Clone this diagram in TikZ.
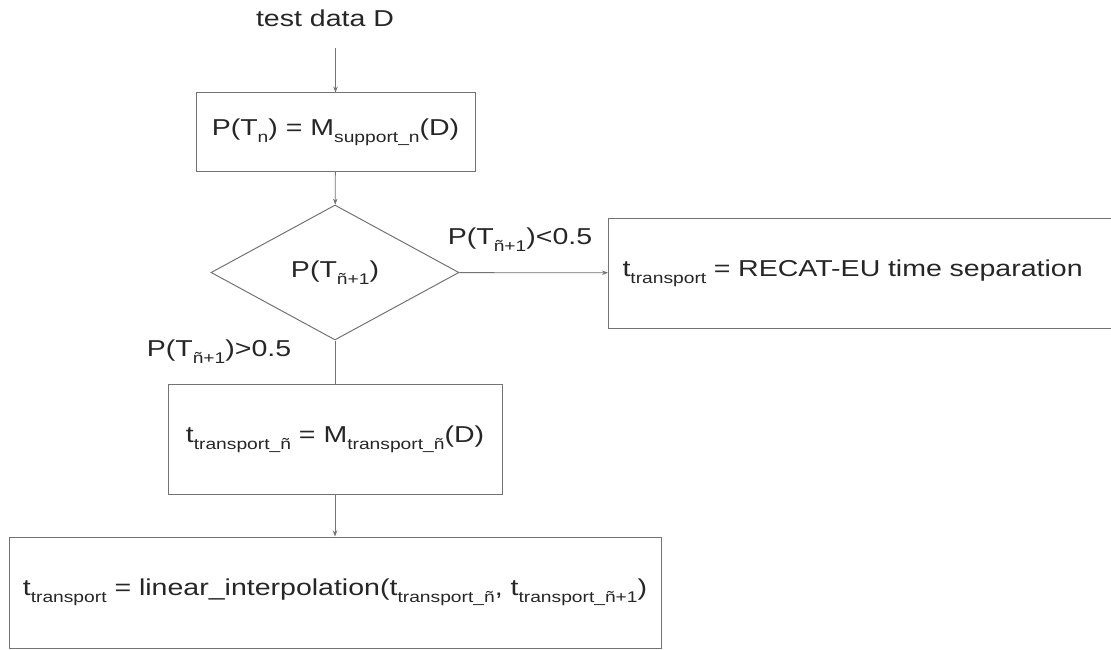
\documentclass[tikz,border=0pt]{standalone}
\usepackage{fontspec}
\setmainfont{Liberation Sans}[FakeStretch=1.24]
\usepackage{tikz}
\usetikzlibrary{shapes.geometric,arrows.meta}

% lowered small text for the indices
\newcommand{\lowidx}[1]{\raisebox{-0.6ex}{\fontsize{15.5}{15.5}\selectfont #1}}

\tikzset{
  lbl/.style={text=black!85, font=\fontsize{23}{26}\selectfont},
  box/.style={draw=black!55, line width=1pt, rectangle, inner sep=0pt},
  flow/.style={draw=black!55, line width=0.8pt, -{Stealth[length=6pt,width=4.5pt]}},
  plain/.style={draw=black!55, line width=0.8pt},
}

\begin{document}
\begin{tikzpicture}[x=1pt,y=-1pt,every node/.style={lbl}]
\useasboundingbox (0,0) rectangle (1111,650);

\node (data) at (325,18) {test data D};

\node[box, minimum width=279pt, minimum height=78pt] (support) at (335.5,132) {P(T\lowidx{n}) = M\lowidx{support\_n}(D)};

\node[diamond, draw=black!55, line width=1pt, inner sep=0pt, minimum width=248pt, minimum height=135pt] (dec) at (335,272.5) {P(T\lowidx{ñ+1})};

\node[box, anchor=west, minimum height=110pt, text width=500pt, align=left, inner xsep=14pt] (recat) at (608,273) {t\lowidx{transport} = RECAT-EU time separation};

\node[box, minimum width=334pt, minimum height=110pt] (trans) at (335,439) {t\lowidx{transport\_ñ} = M\lowidx{transport\_ñ}(D)};

\node[box, minimum width=652pt, minimum height=111pt] (interp) at (335,592.5) {t\lowidx{transport} = linear\_interpolation(t\lowidx{transport\_ñ}, t\lowidx{transport\_ñ+1})};

\node (lt) at (520,240) {P(T\lowidx{ñ+1})<0.5};
\node (gt) at (219,352) {P(T\lowidx{ñ+1})>0.5};

\draw[flow] ([yshift=-18pt]data.south -| support.north) -- (support);
\draw[flow] (support) -- (dec);
\draw[flow] (dec) -- (recat);
\draw[plain] (dec) -- (trans);
\draw[flow] (trans) -- (interp);

\end{tikzpicture}
\end{document}
